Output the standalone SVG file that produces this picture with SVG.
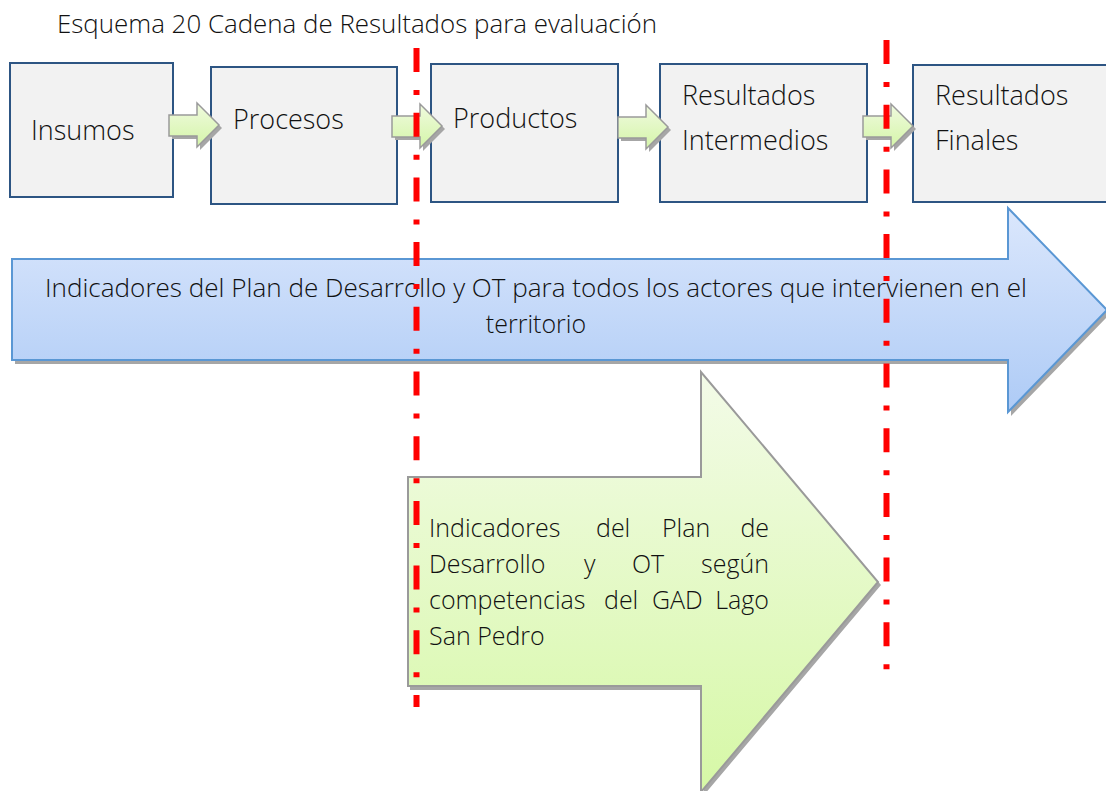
<svg xmlns="http://www.w3.org/2000/svg" width="1106" height="791" viewBox="0 0 1106 791">
<defs>
<linearGradient id="gGreen" x1="0" y1="0" x2="0" y2="1">
<stop offset="0" stop-color="#f3fbe8"/>
<stop offset="1" stop-color="#d6f8a6"/>
</linearGradient>
<linearGradient id="gBlue" x1="0" y1="0" x2="0" y2="1">
<stop offset="0" stop-color="#dbe7fc"/>
<stop offset="1" stop-color="#aecbf6"/>
</linearGradient>
<linearGradient id="gSmall" x1="0" y1="0" x2="0" y2="1">
<stop offset="0" stop-color="#f0fadf"/>
<stop offset="1" stop-color="#d4f5a8"/>
</linearGradient>
</defs>
<style>
text{font-family:"Open Sans","Liberation Sans",sans-serif;font-weight:300;fill:#111111;}
.box{fill:#f2f2f2;stroke:#2d5583;stroke-width:2;}
.lbl{font-size:27px;}
.sm{fill:url(#gSmall);stroke:#9a9a9a;stroke-width:1.5;}
.shadow{fill:#a6a6a6;}
.red{fill:none;stroke:#ff0000;stroke-width:6;stroke-dasharray:24 18 5 17.7;}
</style>
<rect width="1106" height="791" fill="#ffffff"/>
<text x="57" y="33" font-size="25" textLength="600" lengthAdjust="spacingAndGlyphs">Esquema 20 Cadena de Resultados para evaluación</text>

<g id="big-blue-arrow">
<path class="shadow" d="M15,263 H1011 V212 L1110,314 L1011,416 V364 H15 Z"/>
<path d="M12,259 H1008 V208 L1107,310 L1008,412 V360 H12 Z" fill="url(#gBlue)" stroke="#5a97d4" stroke-width="2"/>
<text x="45" y="297" font-size="25" textLength="982" lengthAdjust="spacingAndGlyphs">Indicadores del Plan de Desarrollo y OT para todos los actores que intervienen en el</text>
<text x="536" y="333" font-size="25" text-anchor="middle">territorio</text>
</g>

<g id="big-green-arrow">
<path class="shadow" d="M410,480 H704 V375 L881,585 L704,795 V690 H410 Z"/>
<path d="M408,477 H701 V372 L878,582 L701,792 V686 H408 Z" fill="url(#gGreen)" stroke="#9a9a9a" stroke-width="2"/>
<g font-size="25">
<text x="429" y="537">Indicadores</text><text x="596" y="537">del</text><text x="662" y="537">Plan</text><text x="769" y="537" text-anchor="end">de</text>
<text x="429" y="573">Desarrollo</text><text x="584" y="573">y</text><text x="632" y="573">OT</text><text x="769" y="573" text-anchor="end">según</text>
<text x="429" y="609">competencias</text><text x="604" y="609">del</text><text x="652" y="609">GAD</text><text x="769" y="609" text-anchor="end">Lago</text>
<text x="429" y="645">San Pedro</text>
</g>
</g>

<g id="insumos">
<rect class="box" x="10" y="63" width="163" height="134"/>
<text class="lbl" x="31" y="140">Insumos</text>
</g>
<g id="procesos">
<rect class="box" x="211" y="67" width="186" height="137"/>
<text class="lbl" x="233" y="129">Procesos</text>
</g>
<g id="productos">
<rect class="box" x="431" y="64" width="187" height="138"/>
<text class="lbl" x="453" y="128">Productos</text>
</g>
<g id="resultados-intermedios">
<rect class="box" x="660" y="64" width="207" height="138"/>
<text class="lbl" x="682" y="105">Resultados</text>
<text class="lbl" x="682" y="150">Intermedios</text>
</g>
<g id="resultados-finales">
<rect class="box" x="913" y="65" width="200" height="137"/>
<text class="lbl" x="935" y="105">Resultados</text>
<text class="lbl" x="935" y="150">Finales</text>
</g>

<g id="connectors">
<g transform="translate(169,125)">
<path class="shadow" d="M3,-7 H31 V-19 L53,3 L31,25 V14 H3 Z"/>
<path class="sm" d="M0,-10 H28 V-22 L50,0 L28,22 V11 H0 Z"/>
</g>
<g transform="translate(392,126)">
<path class="shadow" d="M3,-7 H31 V-19 L53,3 L31,25 V14 H3 Z"/>
<path class="sm" d="M0,-10 H28 V-22 L50,0 L28,22 V11 H0 Z"/>
</g>
<g transform="translate(618,127)">
<path class="shadow" d="M3,-7 H31 V-19 L53,3 L31,25 V14 H3 Z"/>
<path class="sm" d="M0,-10 H28 V-22 L50,0 L28,22 V11 H0 Z"/>
</g>
<g transform="translate(863,126)">
<path class="shadow" d="M3,-7 H31 V-19 L53,3 L31,25 V14 H3 Z"/>
<path class="sm" d="M0,-10 H28 V-22 L50,0 L28,22 V11 H0 Z"/>
</g>
<line class="red" x1="416.5" y1="48" x2="416.5" y2="707"/>
<line class="red" x1="886.5" y1="40" x2="886.5" y2="670"/>
</g>
</svg>
